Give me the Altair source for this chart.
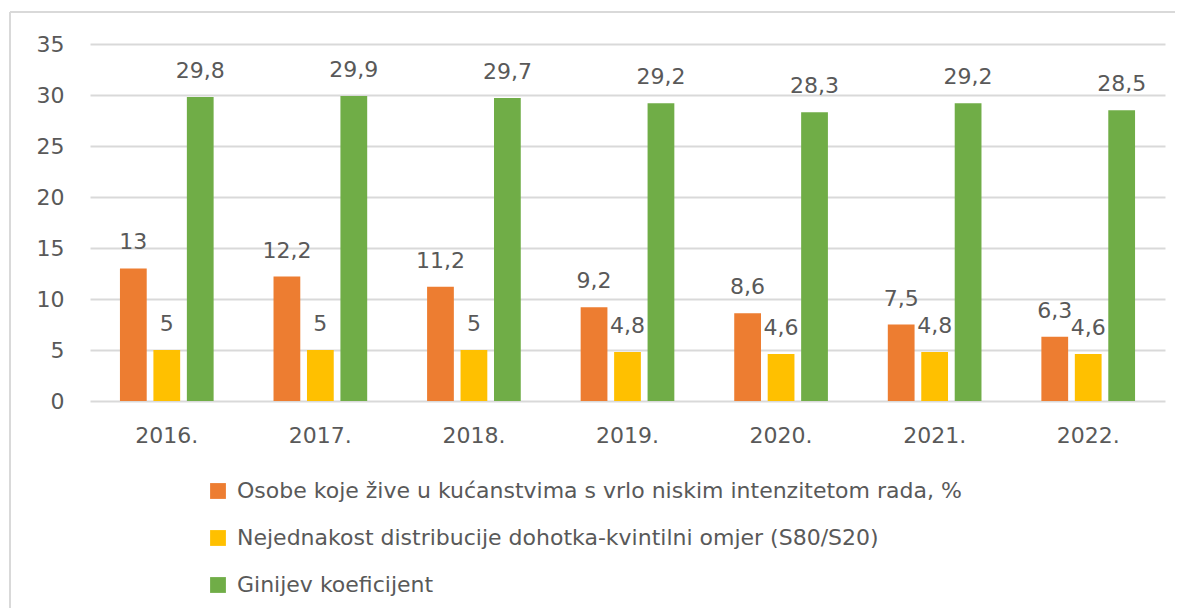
import altair as alt
import pandas as pd

years = ["2016.", "2017.", "2018.", "2019.", "2020.", "2021.", "2022."]
series_names = [
    "Osobe koje žive u kućanstvima s vrlo niskim intenzitetom rada, %",
    "Nejednakost distribucije dohotka-kvintilni omjer (S80/S20)",
    "Ginijev koeficijent",
]
osobe = [13, 12.2, 11.2, 9.2, 8.6, 7.5, 6.3]
nejednakost = [5, 5, 5, 4.8, 4.6, 4.8, 4.6]
gini = [29.8, 29.9, 29.7, 29.2, 28.3, 29.2, 28.5]
colors = ["#ED7D31", "#FFC000", "#70AD47"]
y_ticks = [0, 5, 10, 15, 20, 25, 30, 35]

rows = []
for s, vals in zip(series_names, [osobe, nejednakost, gini]):
    for yr, v in zip(years, vals):
        rows.append({"year": yr, "series": s, "value": v,
                     "label": f"{v:g}".replace(".", ",")})
df = pd.DataFrame(rows)

FONT = "DejaVu Sans"
GRAY = "#595959"
FS = 22

x = alt.X("year:N", sort=years,
          scale=alt.Scale(paddingInner=0.39, paddingOuter=0.195),
          axis=alt.Axis(title=None, labelAngle=0, ticks=False, domain=False,
                        labelPadding=24, labelFontSize=FS, labelColor=GRAY,
                        labelFont=FONT))
xo = alt.XOffset("series:N", sort=series_names,
                 scale=alt.Scale(paddingInner=0.2, paddingOuter=0))
y = alt.Y("value:Q", scale=alt.Scale(domain=[0, 35]),
          axis=alt.Axis(title=None, values=y_ticks, ticks=False, domain=False,
                        gridColor="#D9D9D9", gridWidth=2, labelPadding=26,
                        labelFontSize=FS, labelColor=GRAY, labelFont=FONT))

bars = alt.Chart(df).mark_bar().encode(
    x=x, xOffset=xo, y=y,
    color=alt.Color("series:N", sort=series_names,
                    scale=alt.Scale(domain=series_names, range=colors),
                    legend=alt.Legend(title=None, orient="none", legendX=117,
                                      legendY=436, direction="vertical",
                                      symbolType="square", symbolSize=250,
                                      symbolStrokeWidth=0, labelFontSize=FS,
                                      labelColor=GRAY, labelFont=FONT,
                                      rowPadding=25, labelOffset=8,
                                      labelLimit=1000)),
)

labels = alt.Chart(df).mark_text(dy=-19, baseline="alphabetic", fontSize=FS,
                                  font=FONT, color=GRAY).encode(
    x=x, xOffset=xo, y=y, text="label:N")

frame_df = pd.DataFrame({"k": [0]})
frame_left = alt.Chart(frame_df).mark_rule(color="#D9D9D9", strokeWidth=2).encode(
    x=alt.value(-80), y=alt.value(-32), y2=alt.value(700))
frame_top = alt.Chart(frame_df).mark_rule(color="#D9D9D9", strokeWidth=2).encode(
    x=alt.value(-80), x2=alt.value(1300), y=alt.value(-32))

chart = alt.layer(frame_left, frame_top, bars, labels).properties(
    width=1075, height=357,
    autosize=alt.AutoSizeParams(type="none"),
    padding={"left": 82, "top": 36, "right": 10, "bottom": 207},
    background="white",
).configure_view(stroke=None)

chart.save("out.html", embed_options={"renderer": "svg", "actions": False})
